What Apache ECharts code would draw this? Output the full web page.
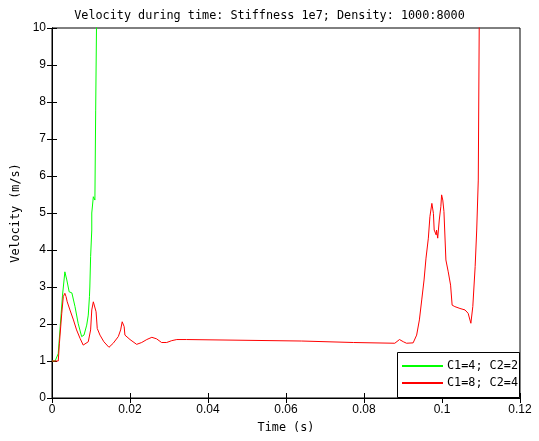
<!DOCTYPE html>
<html>
<head>
<meta charset="utf-8">
<script src="https://cdn.jsdelivr.net/npm/echarts@6/dist/echarts.min.js"></script>
<style>
html,body{margin:0;padding:0;background:#fff;}
#chart{width:539px;height:441px;}
</style>
</head>
<body>
<div id="chart"></div>
<script>
var titleText = 'Velocity during time: Stiffness 1e7; Density: 1000:8000';
var xName = 'Time (s)';
var yName = 'Velocity (m/s)';
var seriesNames = ['C1=4; C2=2', 'C1=8; C2=4'];

var timeGreen = [0, 0.0008, 0.0016, 0.0021, 0.0027, 0.0033, 0.0036, 0.0038, 0.0044, 0.0051, 0.0059, 0.0067, 0.0076, 0.0082, 0.0089, 0.0093, 0.0096, 0.0097, 0.0099, 0.0102, 0.0102, 0.0106, 0.0106, 0.0110, 0.0112, 0.0115, 0.0115];
var velGreen  = [1.0, 1.0, 1.2, 1.93, 2.78, 3.41, 3.41, 3.19, 2.87, 2.84, 2.47, 2.02, 1.66, 1.70, 1.97, 2.24, 2.74, 3.0, 3.82, 4.54, 5.0, 5.0, 5.44, 5.35, 7.78, 7.78, 11.0];

var timeRed = [0, 0.0016, 0.0019, 0.0025, 0.0029, 0.0033, 0.0036, 0.0039, 0.0046, 0.0055, 0.0063, 0.0072, 0.0080, 0.0085, 0.0093, 0.0099, 0.0102, 0.0106, 0.0108, 0.0113, 0.0116, 0.0123, 0.0133, 0.0146, 0.0157, 0.0170, 0.0176, 0.0180, 0.0185, 0.0187, 0.0200, 0.0217, 0.0230, 0.0243, 0.0256, 0.0268, 0.0281, 0.0294, 0.0307, 0.0320, 0.0345, 0.0349, 0.0640, 0.0644, 0.0773, 0.0777, 0.0879, 0.0891, 0.0901, 0.0909, 0.0926, 0.0935, 0.0942, 0.0948, 0.0954, 0.0959, 0.0965, 0.0969, 0.0974, 0.0976, 0.0978, 0.0980, 0.0985, 0.0986, 0.0989, 0.0993, 0.0997, 0.0999, 0.1002, 0.1003, 0.1005, 0.1008, 0.1010, 0.1016, 0.1022, 0.1026, 0.1033, 0.1046, 0.1059, 0.1067, 0.1074, 0.1079, 0.1085, 0.1089, 0.1093, 0.1096];
var velRed  = [1.0, 1.0, 1.48, 2.29, 2.74, 2.83, 2.74, 2.60, 2.38, 2.11, 1.84, 1.61, 1.43, 1.41, 1.52, 1.84, 2.38, 2.60, 2.65, 2.33, 1.88, 1.70, 1.52, 1.37, 1.48, 1.66, 1.84, 2.06, 1.93, 1.70, 1.58, 1.45, 1.50, 1.58, 1.64, 1.60, 1.50, 1.50, 1.55, 1.58, 1.58, 1.54, 1.54, 1.50, 1.50, 1.48, 1.48, 1.58, 1.52, 1.48, 1.49, 1.70, 2.11, 2.65, 3.19, 3.78, 4.32, 4.90, 5.26, 5.22, 4.99, 4.54, 4.41, 4.54, 4.32, 4.81, 5.17, 5.49, 5.35, 5.39, 5.04, 4.99, 3.73, 3.41, 3.05, 2.51, 2.47, 2.42, 2.38, 2.29, 2.02, 2.47, 3.55, 4.54, 5.89, 11.0];

var xMin = 0, xMax = 0.12, xStep = 0.02;
var yMin = 0, yMax = 10, yStep = 1;

function pairs(xs, ys){ return xs.map(function(x,i){ return [x, ys[i]]; }); }

var monoFont = '"DejaVu Sans Mono", "Liberation Mono", monospace';
var sansFont = '"Liberation Sans", Arial, sans-serif';

var chart = echarts.init(document.getElementById('chart'), null, {renderer:'canvas'});
var axisLineStyle = {color:'#000', width:1};
chart.setOption({
  animation:false,
  backgroundColor:'#fff',
  title:{text:titleText, left:'center', top:5, textStyle:{fontFamily:monoFont, fontSize:11.8, fontWeight:'normal', color:'#000'}},
  grid:{left:52, right:19, top:28, bottom:43, show:true, borderColor:'#000', borderWidth:1},
  xAxis:[{
    type:'value', min:xMin, max:xMax, interval:xStep, position:'bottom',
    name:xName, nameLocation:'middle', nameGap:24,
    nameTextStyle:{fontFamily:monoFont, fontSize:11.8, color:'#000'},
    axisLine:{show:true, lineStyle:axisLineStyle},
    axisTick:{show:true, inside:true, length:5, lineStyle:axisLineStyle},
    axisLabel:{fontFamily:sansFont, fontSize:12, color:'#000', margin:6, formatter:function(v){return String(+v.toFixed(2));}},
    splitLine:{show:false}
  },{
    type:'value', min:xMin, max:xMax, interval:xStep, position:'top',
    axisLine:{show:true, lineStyle:axisLineStyle},
    axisTick:{show:true, inside:true, length:5, lineStyle:axisLineStyle},
    axisLabel:{show:false}, splitLine:{show:false}
  }],
  yAxis:[{
    type:'value', min:yMin, max:yMax, interval:yStep, position:'left',
    name:yName, nameLocation:'middle', nameGap:26, nameRotate:90,
    nameTextStyle:{fontFamily:monoFont, fontSize:11.8, color:'#000'},
    axisLine:{show:true, lineStyle:axisLineStyle},
    axisTick:{show:true, inside:true, length:5, lineStyle:axisLineStyle},
    axisLabel:{fontFamily:sansFont, fontSize:12, color:'#000', margin:6},
    splitLine:{show:false}
  },{
    type:'value', min:yMin, max:yMax, interval:yStep, position:'right',
    axisLine:{show:true, lineStyle:axisLineStyle},
    axisTick:{show:true, inside:true, length:5, lineStyle:axisLineStyle},
    axisLabel:{show:false}, splitLine:{show:false}
  }],
  legend:{
    left:402, top:360, orient:'vertical', itemGap:5, itemWidth:41, itemHeight:2, icon:'rect',
    padding:0, z:10,
    textStyle:{fontFamily:monoFont, fontSize:11.8, color:'#000', padding:[0,0,0,-1]},
    data:seriesNames
  },
  graphic:[{type:'rect', z:5, shape:{x:397.5, y:352.5, width:122, height:45}, style:{fill:'#fff', stroke:'#000', lineWidth:1}}],
  series:[{
    name:seriesNames[0], type:'line', data:pairs(timeGreen, velGreen), showSymbol:false, symbol:'none',
    lineStyle:{color:'#00ff00', width:1}, itemStyle:{color:'#00ff00'}, clip:true
  },{
    name:seriesNames[1], type:'line', data:pairs(timeRed, velRed), showSymbol:false, symbol:'none',
    lineStyle:{color:'#ff0000', width:1}, itemStyle:{color:'#ff0000'}, clip:true
  }]
});
</script>
</body>
</html>
